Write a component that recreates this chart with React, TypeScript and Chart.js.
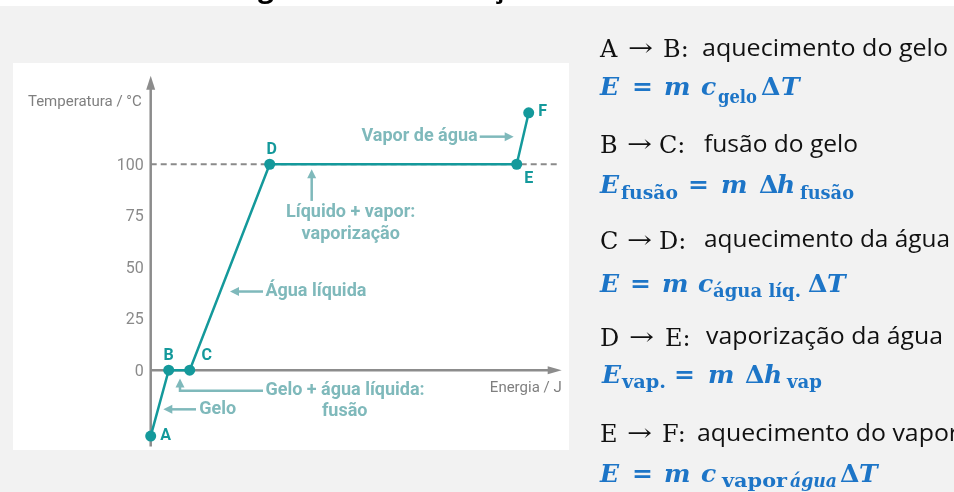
import React, { useEffect, useRef } from 'react';
import { Chart, registerables } from 'chart.js';

Chart.register(...registerables);

// ---- data ----
const pointLabels = ['A', 'B', 'C', 'D', 'E', 'F'];
const energy = [0, 18, 39, 119, 366, 378];
const temperature = [-32, 0, 0, 100, 100, 125];
const temperatureTicks = [0, 25, 50, 75, 100];
const boilingPoint = 100;
const energyMax = 411;
const tempMin = -37;
const tempMax = 143;

const TEAL = '#14999b';
const LIGHT = '#7fb9bb';
const AXIS = '#8c8c8c';
const BLUE = '#1d75c7';
const CHART_FONT = 'Roboto, "Noto Sans", sans-serif';

function head(ctx: CanvasRenderingContext2D, x: number, y: number, angle: number, len: number, half: number, color: string) {
  ctx.save();
  ctx.translate(x, y);
  ctx.rotate(angle);
  ctx.beginPath();
  ctx.moveTo(0, 0);
  ctx.lineTo(-len, -half);
  ctx.lineTo(-len, half);
  ctx.closePath();
  ctx.fillStyle = color;
  ctx.fill();
  ctx.restore();
}

function arrowPath(ctx: CanvasRenderingContext2D, pts: number[][], color: string) {
  const n = pts.length;
  const [xe, ye] = pts[n - 1];
  const [xp, yp] = pts[n - 2];
  const ang = Math.atan2(ye - yp, xe - xp);
  const len = 9;
  ctx.save();
  ctx.strokeStyle = color;
  ctx.lineWidth = 2.5;
  ctx.beginPath();
  ctx.moveTo(pts[0][0], pts[0][1]);
  for (let i = 1; i < n - 1; i++) ctx.lineTo(pts[i][0], pts[i][1]);
  ctx.lineTo(xe - Math.cos(ang) * (len - 1), ye - Math.sin(ang) * (len - 1));
  ctx.stroke();
  ctx.restore();
  head(ctx, xe, ye, ang, len, 4.5, color);
}

const axesPlugin = {
  id: 'axesPlugin',
  beforeDatasetsDraw(chart: any) {
    const { ctx, chartArea, scales } = chart;
    const x = scales.x, y = scales.y;
    const x0 = x.getPixelForValue(0);
    const y0 = y.getPixelForValue(0);
    const yb = y.getPixelForValue(boilingPoint);
    ctx.save();
    ctx.strokeStyle = '#8a8a8a';
    ctx.lineWidth = 2;
    ctx.setLineDash([6, 4]);
    ctx.beginPath();
    ctx.moveTo(x0, yb);
    ctx.lineTo(x.getPixelForValue(energyMax - 4), yb);
    ctx.stroke();
    ctx.setLineDash([]);
    ctx.strokeStyle = AXIS;
    ctx.lineWidth = 2.5;
    ctx.beginPath();
    ctx.moveTo(x0, chartArea.bottom);
    ctx.lineTo(x0, chartArea.top + 10);
    ctx.stroke();
    head(ctx, x0, chartArea.top, -Math.PI / 2, 14, 4.5, AXIS);
    ctx.beginPath();
    ctx.moveTo(x0, y0);
    ctx.lineTo(chartArea.right - 10, y0);
    ctx.stroke();
    head(ctx, chartArea.right, y0, 0, 14, 4, AXIS);
    ctx.font = '16px ' + CHART_FONT;
    ctx.fillStyle = '#8a8a8a';
    ctx.textAlign = 'right';
    ctx.textBaseline = 'middle';
    temperatureTicks.forEach((v) => {
      ctx.fillText(String(v), x0 - 7, y.getPixelForValue(v) + 1.5);
    });
    ctx.font = '15px ' + CHART_FONT;
    ctx.fillStyle = '#7f7f7f';
    ctx.fillText('Temperatura / °C', x0 - 9, y.getPixelForValue(130));
    ctx.fillText('Energia / J', chartArea.right, y0 + 18);
    ctx.restore();
  },
  afterDatasetsDraw(chart: any) {
    const { ctx, scales } = chart;
    const x = scales.x, y = scales.y;
    const P = (vx: number, vy: number) => [x.getPixelForValue(vx), y.getPixelForValue(vy)];
    ctx.save();
    // point labels
    const offs: [number, number, CanvasTextAlign][] = [
      [9.5, 0, 'left'], [0, -14, 'center'], [17, -14, 'center'],
      [2, -14, 'center'], [12, 15, 'center'], [9.5, -1, 'left'],
    ];
    ctx.font = 'bold 16px ' + CHART_FONT;
    ctx.fillStyle = TEAL;
    ctx.textBaseline = 'middle';
    pointLabels.forEach((lab, i) => {
      const [px, py] = P(energy[i], temperature[i]);
      ctx.textAlign = offs[i][2];
      ctx.fillText(lab, px + offs[i][0], py + offs[i][1]);
    });
    // annotations
    ctx.font = 'bold 18px ' + CHART_FONT;
    ctx.fillStyle = LIGHT;
    const txt = (s: string, vx: number, vy: number, align: CanvasTextAlign) => {
      const [px, py] = P(vx, vy);
      ctx.textAlign = align;
      ctx.fillText(s, px, py);
    };
    txt('Vapor de água', 327, 113.6, 'right');
    arrowPath(ctx, [P(329, 113.4), P(363, 113.4)], LIGHT);
    arrowPath(ctx, [P(161, 82.2), P(161, 97.6)], LIGHT);
    txt('Líquido + vapor:', 200, 76.6, 'center');
    txt('vaporização', 200, 66, 'center');
    arrowPath(ctx, [P(112.3, 38.2), P(79.3, 38.2)], LIGHT);
    txt('Água líquida', 114.7, 38.2, 'left');
    txt('Gelo + água líquida:', 114.7, -10, 'left');
    txt('fusão', 194, -20.2, 'center');
    arrowPath(ctx, [P(112.3, -10), P(29.3, -10), P(29.3, -4)], LIGHT);
    arrowPath(ctx, [P(45.3, -19), P(12.6, -19)], LIGHT);
    txt('Gelo', 48.6, -19, 'left');
    ctx.restore();
  },
};

type Tok = { t: string; x: number; sub?: boolean; it?: boolean; len?: number };

const SERIF = '"DejaVu Serif", "Liberation Serif", serif';
const SANS = '"Open Sans", "Noto Sans", sans-serif';

function Formula({ y, sy, toks }: { y: number; sy: number; toks: Tok[] }) {
  return (
    <g fill={BLUE} fontFamily={SERIF} fontWeight="bold">
      {toks.map((k, i) => (
        <text
          key={i}
          x={k.x}
          y={k.sub ? sy : y}
          fontSize={k.sub ? 18 : 25}
          fontStyle={k.it ? 'italic' : 'normal'}
          textLength={k.len}
          lengthAdjust={k.len ? 'spacingAndGlyphs' : undefined}
        >
          {k.t}
        </text>
      ))}
    </g>
  );
}

function Step({ y, ty, a, b, xs, desc, dx, dlen }: { y: number; ty: number; a: string; b: string; xs: number[]; desc: string; dx: number; dlen: number }) {
  return (
    <g>
      <g fill="#111" fontFamily={SERIF} fontSize={24}>
        <text x={xs[0]} y={y}>{a}</text>
        <text x={xs[1]} y={y - 1} textLength={25} lengthAdjust="spacingAndGlyphs">→</text>
        <text x={xs[2]} y={y}>{b}</text>
      </g>
      <text x={dx} y={ty} fill="#111" fontFamily={SANS} fontSize={23} textLength={dlen} lengthAdjust="spacingAndGlyphs">
        {desc}
      </text>
    </g>
  );
}

export default function App() {
  const ref = useRef<HTMLCanvasElement>(null);
  useEffect(() => {
    const chart = new Chart(ref.current as HTMLCanvasElement, {
      type: 'line',
      data: {
        datasets: [
          {
            data: energy.map((e, i) => ({ x: e, y: temperature[i] })),
            borderColor: TEAL,
            backgroundColor: TEAL,
            borderWidth: 2.5,
            pointRadius: 5.5,
            pointBorderWidth: 0,
            pointBackgroundColor: TEAL,
            tension: 0,
            clip: false,
          },
        ],
      },
      options: {
        responsive: false,
        animation: false,
        layout: { autoPadding: false, padding: { top: 12.7, bottom: 3.6, right: 7.3, left: 137.7 } },
        plugins: { legend: { display: false }, tooltip: { enabled: false }, title: { display: false } },
        scales: {
          x: { type: 'linear', min: 0, max: energyMax, display: false },
          y: { type: 'linear', min: tempMin, max: tempMax, display: false },
        },
      },
      plugins: [axesPlugin],
    });
    return () => chart.destroy();
  }, []);

  return (
    <div style={{ position: 'absolute', left: 0, top: 0, width: 954, height: 492, background: '#f2f2f2', overflow: 'hidden' }}>
      <div style={{ position: 'absolute', left: 0, top: 0, width: 954, height: 6, background: '#ffffff' }} />
      <div style={{ position: 'absolute', left: 13, top: 63, width: 556, height: 387, background: '#ffffff' }}>
        <canvas ref={ref} width={556} height={387} style={{ display: 'block', width: 556, height: 387 }} />
      </div>
      <svg width={954} height={492} style={{ position: 'absolute', left: 0, top: 0, pointerEvents: 'none' }}>
        <g fill="#000" fontFamily={SANS} fontWeight="bold" fontSize={28}>
          <text x={259} y={-3} textAnchor="end">Ener</text>
          <text x={258} y={-3}>gia envolvida nas muda</text>
          <text x={491} y={-3}>ças de estado</text>
        </g>
        <Step y={57.3} ty={55.5} a="A" b="B:" xs={[600, 628, 663]} desc="aquecimento do gelo" dx={702} dlen={246} />
        <Formula y={95} sy={103} toks={[
          { t: 'E', x: 600, it: true }, { t: '=', x: 632 }, { t: 'm', x: 664, it: true }, { t: 'c', x: 701, it: true },
          { t: 'gelo', x: 718, sub: true, len: 39 }, { t: 'Δ', x: 761 }, { t: 'T', x: 781, it: true },
        ]} />
        <Step y={153.3} ty={151.7} a="B" b="C:" xs={[600, 627, 659]} desc="fusão do gelo" dx={704} dlen={154} />
        <Formula y={192.7} sy={198.5} toks={[
          { t: 'E', x: 600, it: true }, { t: 'fusão', x: 621, sub: true, len: 57 }, { t: '=', x: 688 },
          { t: 'm', x: 721, it: true }, { t: 'Δ', x: 759 }, { t: 'h', x: 777, it: true }, { t: 'fusão', x: 800, sub: true, len: 54 },
        ]} />
        <Step y={248.5} ty={247} a="C" b="D:" xs={[600, 627, 659]} desc="aquecimento da água" dx={704} dlen={246} />
        <Formula y={291.7} sy={297} toks={[
          { t: 'E', x: 600, it: true }, { t: '=', x: 630 }, { t: 'm', x: 662, it: true }, { t: 'c', x: 698, it: true },
          { t: 'água líq.', x: 713, sub: true, len: 88 }, { t: 'Δ', x: 808 }, { t: 'T', x: 827, it: true },
        ]} />
        <Step y={346} ty={344} a="D" b="E:" xs={[600, 629, 665]} desc="vaporização da água" dx={706} dlen={237} />
        <Formula y={383} sy={388} toks={[
          { t: 'E', x: 602, it: true }, { t: 'vap.', x: 622, sub: true, len: 44 }, { t: '=', x: 674 },
          { t: 'm', x: 708, it: true }, { t: 'Δ', x: 745 }, { t: 'h', x: 764, it: true }, { t: 'vap', x: 787, sub: true, len: 35 },
        ]} />
        <Step y={442} ty={440.7} a="E" b="F:" xs={[600, 627, 662]} desc="aquecimento do vapor" dx={697} dlen={262} />
        <Formula y={481.7} sy={487} toks={[
          { t: 'E', x: 600, it: true }, { t: '=', x: 632 }, { t: 'm', x: 664, it: true }, { t: 'c', x: 701, it: true },
          { t: 'vapor', x: 722, sub: true, len: 65 }, { t: 'água', x: 790, sub: true, it: true, len: 47 },
          { t: 'Δ', x: 840 }, { t: 'T', x: 859, it: true },
        ]} />
      </svg>
    </div>
  );
}
